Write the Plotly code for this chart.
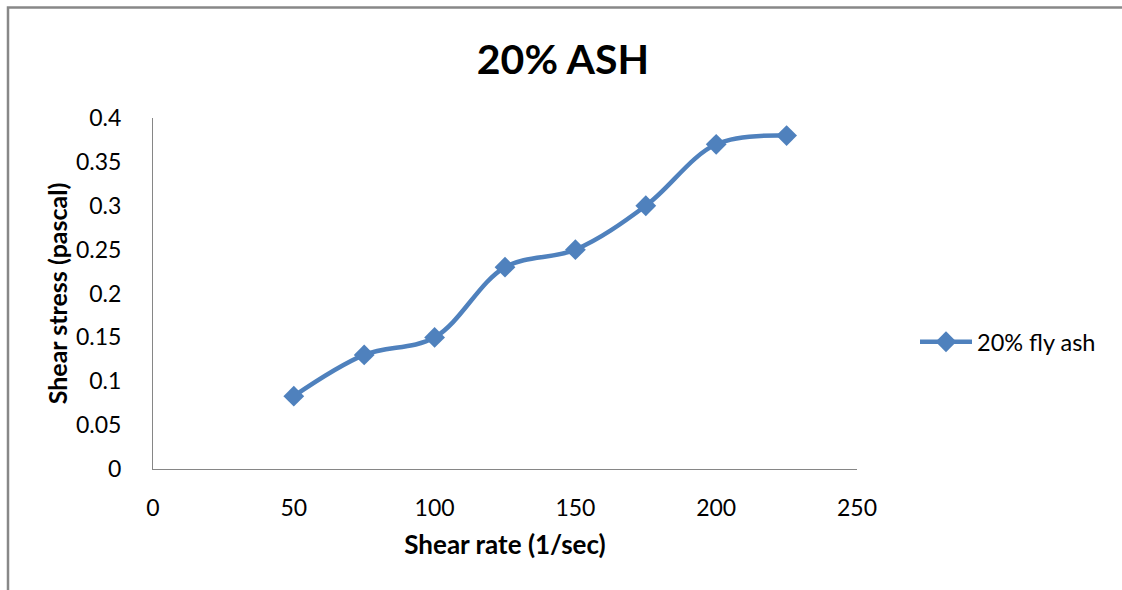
import plotly.graph_objects as go

# Shear rate vs shear stress, 20% fly ash slurry
shear_rate = [50, 75, 100, 125, 150, 175, 200, 225]
shear_stress = [0.083, 0.13, 0.15, 0.23, 0.25, 0.30, 0.37, 0.38]

x_ticks = [0, 50, 100, 150, 200, 250]
y_ticks = [0, 0.05, 0.1, 0.15, 0.2, 0.25, 0.3, 0.35, 0.4]
y_tick_text = ["0", "0.05", "0.1", "0.15", "0.2", "0.25", "0.3", "0.35", "0.4"]

BLUE = "#4F81BD"
AXIS = "#868686"
FONT = "Lato, 'Open Sans', sans-serif"

fig = go.Figure()
fig.add_trace(go.Scatter(
    x=shear_rate, y=shear_stress,
    mode="lines+markers",
    name="20% fly ash",
    line=dict(color=BLUE, width=4.5, shape="spline", smoothing=1.0),
    marker=dict(symbol="diamond", size=16, color=BLUE),
))

W, H = 1122, 590
L, R, T, B = 153, 265, 118, 121
pw, ph = W - L - R, H - T - B


def px(x):
    return (x - L) / pw


def py(y):
    return (H - B - y) / ph


fig.update_layout(
    width=W, height=H,
    margin=dict(l=L, r=R, t=T, b=B),
    paper_bgcolor="white", plot_bgcolor="white",
    font=dict(family=FONT, color="#000000", size=23),
    title=dict(text="<b>20% ASH</b>", xref="container", x=563 / W,
               xanchor="center", yref="container", y=1 - 60 / H,
               yanchor="middle", font=dict(size=41, family=FONT)),
    xaxis=dict(range=[0, 250], tickvals=x_ticks, showgrid=False,
               zeroline=False, showline=True, linecolor=AXIS, linewidth=1,
               ticks="", ticklabelstandoff=18,
               title=dict(text="<b>Shear rate (1/sec)</b>", standoff=16,
                          font=dict(size=26))),
    yaxis=dict(range=[0, 0.4], tickvals=y_ticks, ticktext=y_tick_text,
               showgrid=False, zeroline=False, showline=True,
               linecolor=AXIS, linewidth=1, ticks="", ticklabelstandoff=26,
               title=dict(text="<b>Shear stress (pascal)</b>", standoff=1,
                          font=dict(size=25))),
    showlegend=True,
    legend=dict(x=px(915), y=py(342), xanchor="left", yanchor="middle",
                font=dict(size=23.5), itemwidth=52, bgcolor="rgba(0,0,0,0)"),
    shapes=[dict(type="rect", xref="paper", yref="paper",
                 x0=px(8), x1=px(1140), y0=py(620), y1=py(7.5),
                 line=dict(color="#888888", width=2.5))],
)

fig.write_html("out.html")
